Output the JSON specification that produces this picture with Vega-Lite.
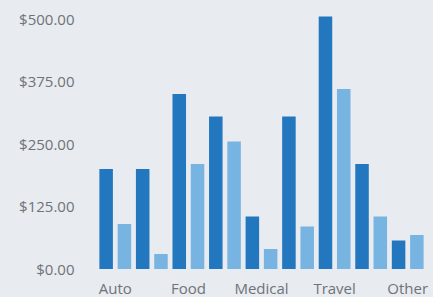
{
  "$schema": "https://vega.github.io/schema/vega-lite/v6.json",
  "width": 329,
  "height": 250,
  "autosize": {"type": "none"},
  "padding": {"left": 97, "top": 19, "right": 7, "bottom": 28},
  "background": "#e8ebef",
  "config": {"view": {"stroke": null}},
  "data": {
    "values": [
      {"category": "Auto", "series": "Projected", "amount": 200},
      {"category": "Auto", "series": "Actual", "amount": 90},
      {"category": "Entertainment", "series": "Projected", "amount": 200},
      {"category": "Entertainment", "series": "Actual", "amount": 30},
      {"category": "Food", "series": "Projected", "amount": 350},
      {"category": "Food", "series": "Actual", "amount": 210},
      {"category": "Home", "series": "Projected", "amount": 305},
      {"category": "Home", "series": "Actual", "amount": 255},
      {"category": "Medical", "series": "Projected", "amount": 105},
      {"category": "Medical", "series": "Actual", "amount": 40},
      {"category": "Personal Items", "series": "Projected", "amount": 305},
      {"category": "Personal Items", "series": "Actual", "amount": 85},
      {"category": "Travel", "series": "Projected", "amount": 505},
      {"category": "Travel", "series": "Actual", "amount": 360},
      {"category": "Utilities", "series": "Projected", "amount": 210},
      {"category": "Utilities", "series": "Actual", "amount": 105},
      {"category": "Other", "series": "Projected", "amount": 57},
      {"category": "Other", "series": "Actual", "amount": 68}
    ]
  },
  "mark": {"type": "bar"},
  "encoding": {
    "x": {
      "field": "category",
      "type": "nominal",
      "sort": null,
      "scale": {"paddingInner": 0, "paddingOuter": 0},
      "axis": {
        "title": null,
        "labelAngle": 0,
        "ticks": false,
        "domain": false,
        "labelPadding": 12,
        "labelFont": "Open Sans",
        "labelFontSize": 15,
        "labelColor": "#6f7378",
        "labelOverlap": false,
        "labelExpr": "indexof(['Auto','Food','Medical','Travel','Other'], datum.value) >= 0 ? datum.value : ''"
      }
    },
    "xOffset": {
      "field": "series",
      "type": "nominal",
      "sort": ["Projected", "Actual"],
      "scale": {"paddingInner": 0.26, "paddingOuter": 0.13}
    },
    "y": {
      "field": "amount",
      "type": "quantitative",
      "scale": {"domain": [0, 500], "nice": false},
      "axis": {
        "title": null,
        "values": [0, 125, 250, 375, 500],
        "format": "$,.2f",
        "grid": false,
        "ticks": false,
        "domain": false,
        "labelPadding": 23,
        "labelFont": "Open Sans",
        "labelFontSize": 15,
        "labelColor": "#6f7378"
      }
    },
    "color": {
      "field": "series",
      "type": "nominal",
      "scale": {"domain": ["Projected", "Actual"], "range": ["#2377bf", "#78b4e2"]},
      "legend": null
    }
  }
}
